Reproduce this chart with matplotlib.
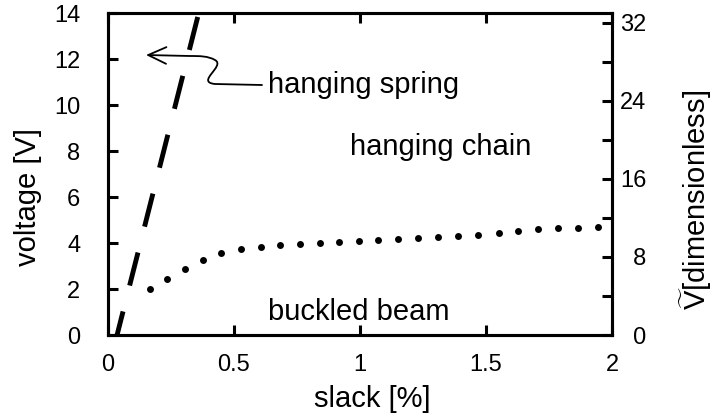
import matplotlib

matplotlib.use("Agg")
import matplotlib.pyplot as plt
from matplotlib.patches import FancyArrowPatch
from matplotlib.path import Path

plt.rcParams["font.family"] = ["Liberation Sans", "DejaVu Sans"]
plt.rcParams["mathtext.fontset"] = "custom"
plt.rcParams["mathtext.rm"] = "Liberation Sans"
plt.rcParams["mathtext.it"] = "Liberation Sans"

# --- данные
spring_slack = [0.036, 0.36]
spring_volt = [0.0, 14.0]

beam_slack = [0.167, 0.235, 0.307, 0.375, 0.450, 0.526, 0.606, 0.681, 0.761, 0.841,
              0.916, 0.995, 1.07, 1.15, 1.23, 1.31, 1.39, 1.47, 1.55, 1.625, 1.705,
              1.785, 1.865, 1.944]
beam_volt = [2.0, 2.43, 2.87, 3.26, 3.57, 3.74, 3.83, 3.91, 3.96, 4.0,
             4.04, 4.08, 4.12, 4.16, 4.2, 4.25, 4.3, 4.36, 4.44, 4.52, 4.6,
             4.65, 4.66, 4.7]

x_ticks = [0, 0.5, 1, 1.5, 2]
x_labels = ["0", "0.5", "1", "1.5", "2"]
y_ticks = [0, 2, 4, 6, 8, 10, 12, 14]
y2_ticks = [0, 8, 16, 24, 32]
y2_minor = [4, 12, 20, 28]
y2_labels = ["\u20070", "\u20078", "16", "24", "32"]

fig = plt.figure(figsize=(7.19, 4.15), dpi=100)
ax = fig.add_axes([108 / 719, 1 - 335 / 415, 504 / 719, 322 / 415])
ax2 = ax.twinx()

ax.plot(spring_slack, spring_volt, color="black", lw=3.5,
        linestyle=(2.0, (7, 5.5)), dash_capstyle="butt")
ax.plot(beam_slack, beam_volt, "o", color="black", ms=5, mew=0)

ax.set_xlim(0, 2)
ax.set_ylim(0, 14)
ax2.set_ylim(0, 33)

ax.set_xticks(x_ticks, x_labels)
ax.set_yticks(y_ticks)
ax2.set_yticks(y2_ticks, y2_labels)
ax2.set_yticks(y2_minor, minor=True)

for a in (ax, ax2):
    for s in a.spines.values():
        s.set_linewidth(2.2)
ax.tick_params(axis="both", direction="in", length=7, width=2.2, labelsize=17)
ax.tick_params(axis="x", top=True, pad=14)
ax.tick_params(axis="y", pad=20)
ax2.tick_params(axis="y", which="both", direction="in", length=7, width=2.2,
                labelsize=17, pad=6)

ax.set_xlabel("slack [%]", fontsize=21)
ax.xaxis.set_label_coords(0.524, -0.155)
ax.set_ylabel("voltage [V]", fontsize=21)
ax.yaxis.set_label_coords(-0.13, 0.43)
ax2.set_ylabel(r"$\widetilde{\mathrm{V}}$[dimensionless]", fontsize=21)
ax2.yaxis.set_label_coords(1.13, 0.42)

ax.text(0.635, 10.87, "hanging spring", fontsize=21, va="center")
ax.text(0.96, 8.17, "hanging chain", fontsize=21, va="center")
ax.text(0.635, 1.0, "buckled beam", fontsize=21, va="center")

# стрелка-«завиток» от подписи к пунктирной линии (в пикселях -> данные)
def px(xp, yp):
    return ((xp - 108) / 252, (335 - yp) / 23)

verts = [px(262, 85), px(215, 84), px(195, 82), px(226, 66), px(215, 60),
         px(208, 56), px(200, 56), px(190, 56), px(146, 55)]
codes = [Path.MOVETO, Path.LINETO, Path.CURVE4, Path.CURVE4, Path.CURVE4,
         Path.CURVE4, Path.CURVE4, Path.CURVE4, Path.LINETO]
arrow = FancyArrowPatch(path=Path(verts, codes), arrowstyle="->,head_length=13,head_width=6",
                        color="black", lw=1.3, mutation_scale=1)
ax.add_patch(arrow)

fig.savefig("out.png", dpi=100)
